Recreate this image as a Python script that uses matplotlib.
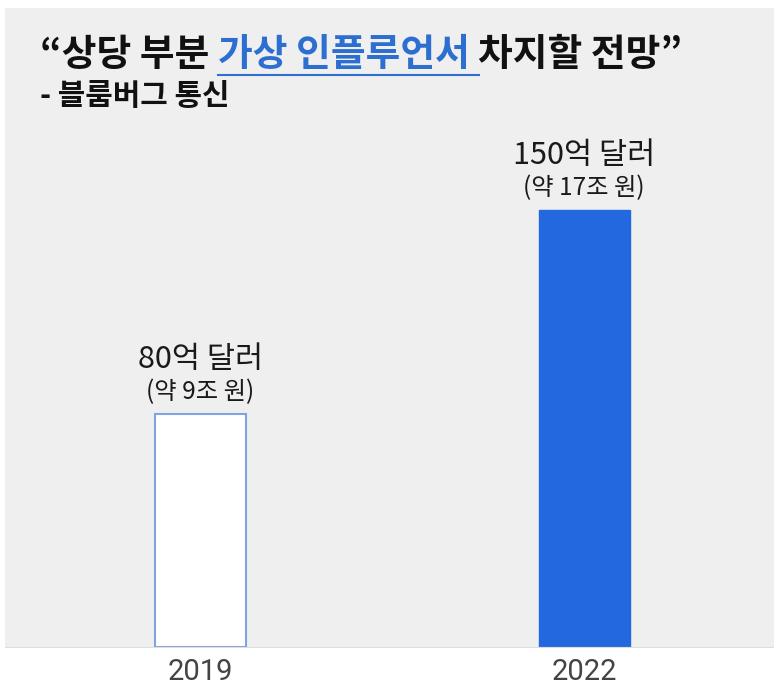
import matplotlib
matplotlib.use('Agg')
import matplotlib.pyplot as plt
from matplotlib import font_manager

plt.rcParams['font.family'] = ['Noto Sans CJK KR', 'DejaVu Sans']

years = ['2019', '2022']
values = [80, 150]
value_labels = ['80억 달러', '150억 달러']
won_labels = ['(약 9조 원)', '(약 17조 원)']
title_parts = ['“상당 부분 ', '가상 인플루언서 ', '차지할 전망”']
subtitle = '- 블룸버그 통신'

names = {f.name for f in font_manager.fontManager.ttflist}
year_font = 'Roboto' if 'Roboto' in names else 'DejaVu Sans'

W, H = 774, 687
fig = plt.figure(figsize=(W / 100, H / 100), dpi=100)
fig.patch.set_facecolor('white')
ax = fig.add_axes([5 / W, 40 / H, 769 / W, 639 / H])
ax.set_facecolor('#efefef')

x = [0, 1]
ax.bar(x[0], values[0], width=0.237, color='white', edgecolor='#7fa3e3', linewidth=1.5)
ax.bar(x[1], values[1], width=0.237, color='#2468df', edgecolor='#2468df', linewidth=1)
ax.set_xlim(-0.51, 1.495)
ax.set_ylim(0, 219.4)

for i in range(2):
    ax.text(x[i], values[i] + 18.8, value_labels[i], ha='center', va='center',
            fontsize=22, color='#1a1a1a', fontweight='medium')
    ax.text(x[i], values[i] + 7.6, won_labels[i], ha='center', va='center',
            fontsize=17.5, color='#1a1a1a', fontweight='medium')

ax.set_xticks(x)
ax.set_xticklabels(years, fontsize=21, color='#444444', family=year_font)
ax.tick_params(axis='x', length=0, pad=8)
ax.set_yticks([])
for s in ['left', 'right', 'top']:
    ax.spines[s].set_visible(False)
ax.spines['bottom'].set_color('#dddddd')

# title pieces, placed one after another
fig.canvas.draw()
renderer = fig.canvas.get_renderer()
xpos = 40 / W
ty = 1 - 66 / H
colors = ['#111111', '#2d6fd0', '#111111']
for k, part in enumerate(title_parts):
    t = fig.text(xpos, ty, part, fontsize=27.2, fontweight='bold', color=colors[k],
                 ha='left', va='baseline')
    bb = t.get_window_extent(renderer)
    if k == 1:
        fig.add_artist(plt.Line2D([bb.x0 / W, bb.x1 / W], [1 - 75 / H, 1 - 75 / H],
                                  color='#2d6fd0', linewidth=1.5))
    xpos = bb.x1 / W

fig.text(40 / W, 1 - 105 / H, subtitle, fontsize=21.5, fontweight='bold',
         color='#111111', ha='left', va='baseline')

fig.savefig('out.png', dpi=100, facecolor='white')
